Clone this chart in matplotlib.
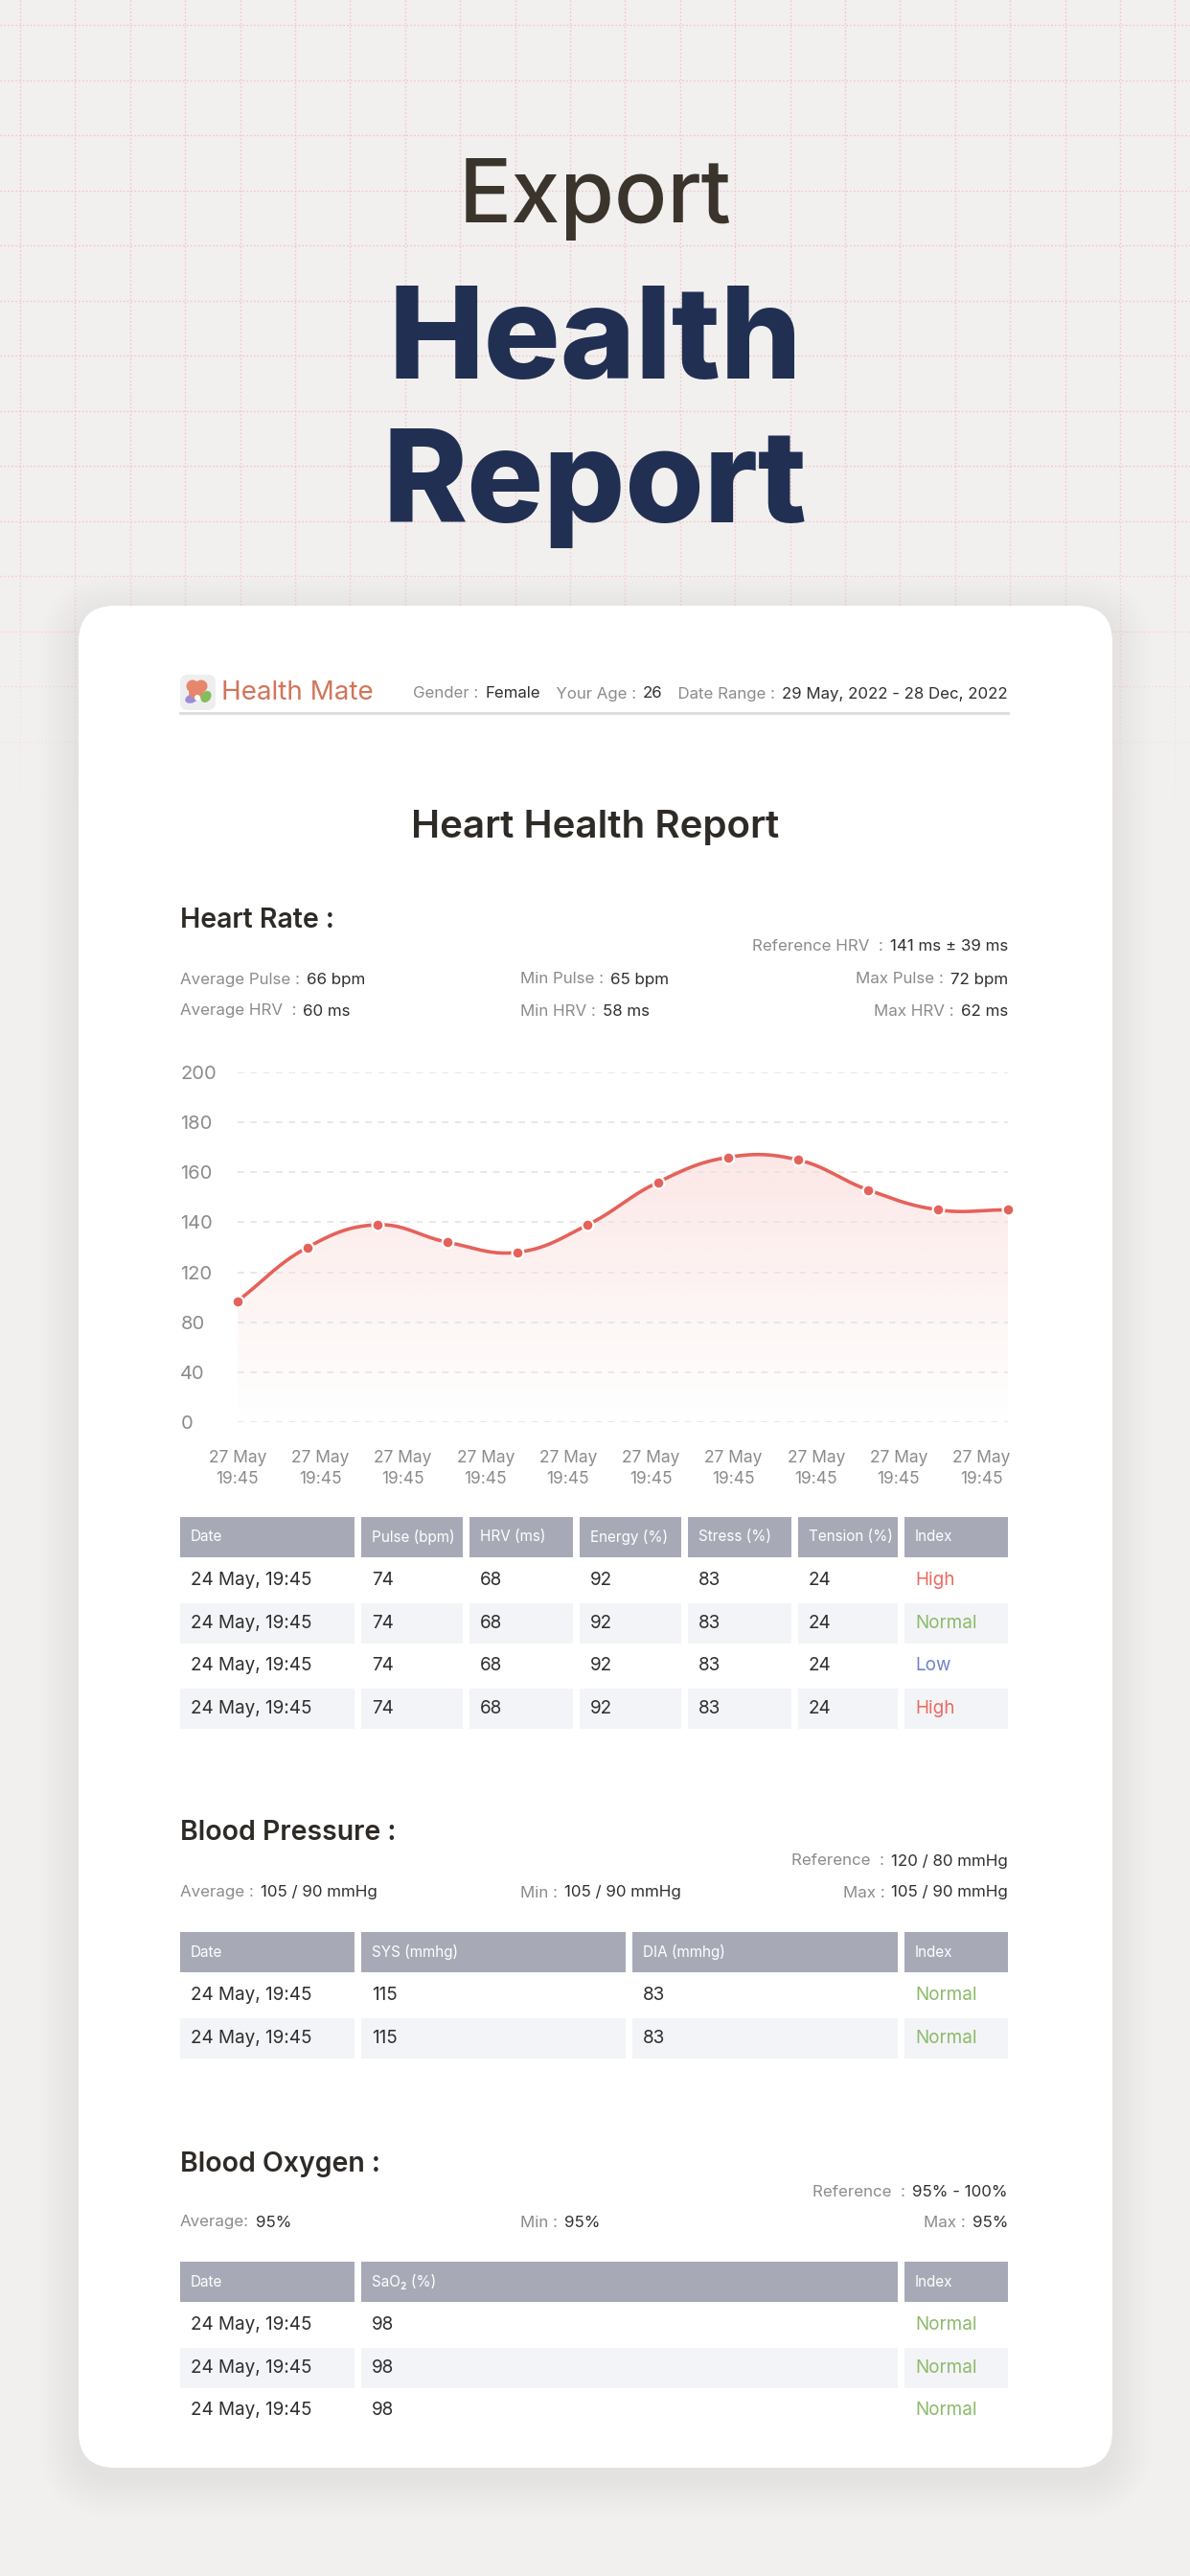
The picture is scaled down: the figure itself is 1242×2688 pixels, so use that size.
import numpy as np
import matplotlib
matplotlib.use("Agg")
import matplotlib.pyplot as plt
from matplotlib.patches import FancyBboxPatch, Rectangle, Ellipse, Circle
from matplotlib.path import Path

# ---- data ----
hr_values = [97, 130, 139, 132, 128, 139, 156, 166, 165, 153, 145, 145]
hr_ticks = [0, 40, 80, 120, 140, 160, 180, 200]
hr_xlabels = ["27 May\n19:45"] * 10

heart_cols = ["Date", "Pulse (bpm)", "HRV (ms)", "Energy (%)", "Stress (%)", "Tension (%)", "Index"]
heart_rows = [
    ["24 May, 19:45", "74", "68", "92", "83", "24", "High"],
    ["24 May, 19:45", "74", "68", "92", "83", "24", "Normal"],
    ["24 May, 19:45", "74", "68", "92", "83", "24", "Low"],
    ["24 May, 19:45", "74", "68", "92", "83", "24", "High"],
]
bp_cols = ["Date", "SYS (mmhg)", "DIA (mmhg)", "Index"]
bp_rows = [
    ["24 May, 19:45", "115", "83", "Normal"],
    ["24 May, 19:45", "115", "83", "Normal"],
]
ox_cols = ["Date", "SaO\u2082 (%)", "Index"]
ox_rows = [
    ["24 May, 19:45", "98", "Normal"],
    ["24 May, 19:45", "98", "Normal"],
    ["24 May, 19:45", "98", "Normal"],
]

hr_stats = [("Average Pulse :", "66 bpm"), ("Min Pulse :", "65 bpm"), ("Max Pulse :", "72 bpm"),
            ("Average HRV  :", "60 ms"), ("Min HRV :", "58 ms"), ("Max HRV :", "62 ms")]
hr_reference = ("Reference HRV  :", "141 ms \u00b1 39 ms")
bp_stats = [("Average :", "105 / 90 mmHg"), ("Min :", "105 / 90 mmHg"), ("Max :", "105 / 90 mmHg")]
bp_reference = ("Reference  :", "120 / 80 mmHg")
ox_stats = [("Average:", "95%"), ("Min :", "95%"), ("Max :", "95%")]
ox_reference = ("Reference  :", "95% - 100%")

index_colors = {"High": "#EA6A5E", "Normal": "#8DBA69", "Low": "#7183C9"}

FONT = ["Inter", "DejaVu Sans"]
GRAY = "#8B8B8B"
DARK = "#2F2F2F"
W, H = 1242, 2688
L, R = 188, 1052

fig = plt.figure(figsize=(W / 100, H / 100), dpi=100)
fig.patch.set_facecolor("#F2F0EF")
bg = fig.add_axes([0, 0, 1, 1])
bg.set_xlim(0, W)
bg.set_ylim(H, 0)
bg.axis("off")

# dotted grid at the top, faded out towards the card
for gx in np.arange(21, W, 57.4):
    bg.plot([gx, gx], [0, 880], color="#F4C5C9", lw=1.0, ls=(0, (1.2, 1.6)), zorder=1)
for gy in np.arange(26, 880, 57.5):
    bg.plot([0, W], [gy, gy], color="#F4C5C9", lw=1.0, ls=(0, (1.2, 1.6)), zorder=1)
fade = np.ones((100, 2, 4))
fade[..., :3] = np.array([242, 240, 239]) / 255
fade[..., 3] = np.linspace(0, 1, 100)[:, None] ** 1.2
bg.imshow(fade, extent=(0, W, 860, 480), origin="upper", aspect="auto", zorder=2)
bg.add_patch(Rectangle((0, 859), W, 40, fc="#F2F0EF", ec="none", zorder=2))
bg.set_xlim(0, W)
bg.set_ylim(H, 0)

# titles
bg.text(W / 2, 232, "Export", ha="center", va="baseline", fontsize=66, color="#3A342D",
        family=FONT, fontweight="medium", zorder=3)
bg.text(W / 2, 395, "Health", ha="center", va="baseline", fontsize=96, color="#213052",
        family=FONT, fontweight="heavy", zorder=3)
bg.text(W / 2, 545, "Report", ha="center", va="baseline", fontsize=96, color="#213052",
        family=FONT, fontweight="heavy", zorder=3)

# card with soft shadow
cx, cy, cw, ch = 82, 632, 1079, 1943
for i in range(14):
    g = 2 + i * 3
    bg.add_patch(FancyBboxPatch((cx - g, cy - g + 10), cw + 2 * g, ch + 2 * g,
                                boxstyle="round,pad=0,rounding_size=%d" % (38 + g),
                                fc="#7A7472", ec="none", alpha=0.008, zorder=3))
bg.add_patch(FancyBboxPatch((cx, cy), cw, ch, boxstyle="round,pad=0,rounding_size=38",
                            fc="white", ec="none", zorder=4))

renderer = fig.canvas.get_renderer()


def rich(x, y, parts, ha="left", size=12.2, gap=7):
    texts = []
    for s, c in parts:
        texts.append(bg.text(0, y, s, color=c, fontsize=size, va="center", ha="left",
                             family=FONT, zorder=6))
    widths = [t.get_window_extent(renderer).width for t in texts]
    total = sum(widths) + gap * (len(texts) - 1)
    x0 = x - total if ha == "right" else x
    for t, w in zip(texts, widths):
        t.set_x(x0)
        x0 += w + gap


# header bar of the card
bg.add_patch(FancyBboxPatch((188, 704), 37, 37, boxstyle="round,pad=0,rounding_size=8",
                            fc="#EFEEEF", ec="none", zorder=5))
bg.add_patch(Ellipse((200, 729), 14, 9, angle=-20, fc="#9D8CDB", ec="none", zorder=6))
bg.add_patch(Circle((201, 716), 6.5, fc="#E6876D", ec="none", zorder=6))
bg.add_patch(Circle((210, 716), 6.5, fc="#E6876D", ec="none", zorder=6))
bg.add_patch(Ellipse((205, 723), 16, 12, fc="#E6876D", ec="none", zorder=6))
bg.add_patch(Ellipse((215, 727), 10, 13, angle=35, fc="#85BD5D", ec="none", zorder=6))
bg.add_patch(Circle((206, 728), 3, fc="white", ec="none", zorder=7))
bg.text(231, 723, "Health Mate", fontsize=20, color="#D2745A", va="center", family=FONT, zorder=6)
rich(R, 724, [("Gender :", GRAY), ("Female", DARK), ("  Your Age :", GRAY), ("26", DARK),
              ("  Date Range :", GRAY), ("29 May, 2022 - 28 Dec, 2022", DARK)], ha="right", size=12.1)
bg.plot([L, R], [744, 744], color="#DCDCDC", lw=2, zorder=6)

bg.text(W / 2, 863, "Heart Health Report", ha="center", va="center", fontsize=29,
        fontweight="semibold", color="#2E2A26", family=FONT, zorder=6)


def section(title, ty, ref, ry, stats, sy):
    bg.text(L, ty, title, fontsize=20.5, fontweight="semibold", color="#2E2A26",
            va="center", family=FONT, zorder=6)
    rich(R, ry, [(ref[0], GRAY), (ref[1], DARK)], ha="right")
    xs = [L, 543, R]
    for k, (lab, val) in enumerate(stats):
        row, col = divmod(k, 3)
        rich(xs[col], sy + row * 33, [(lab, GRAY), (val, DARK)], ha="right" if col == 2 else "left")


def table(cols, rows, spans, top):
    hh, rh = 42, 44.5
    for (x0, x1), name in zip(spans, cols):
        bg.add_patch(Rectangle((x0, top), x1 - x0, hh, fc="#A7AAB6", ec="none", zorder=5))
        bg.text(x0 + 11, top + hh / 2, name, fontsize=11, color="white", va="center",
                family=FONT, zorder=6)
    for r, row in enumerate(rows):
        yc = top + hh + 2 + rh * r + rh / 2
        for c, ((x0, x1), val) in enumerate(zip(spans, row)):
            if r % 2 == 1:
                bg.add_patch(Rectangle((x0, yc - rh / 2 + 1), x1 - x0, rh - 2, fc="#F3F4F7",
                                       ec="none", zorder=5))
            color = index_colors.get(val, DARK) if c == len(row) - 1 else DARK
            bg.text(x0 + 11, yc, val, fontsize=13.6, color=color, va="center",
                    family=FONT, zorder=6)


# heart rate section
section("Heart Rate :", 961, hr_reference, 988, hr_stats, 1022)

ax = fig.add_axes([248 / W, 1 - 1484 / H, (R - 248) / W, (1484 - 1119) / H])
pos = np.arange(len(hr_ticks))
fwd = lambda v: np.interp(v, hr_ticks, pos)
inv = lambda p: np.interp(p, pos, hr_ticks)
ax.set_yscale("function", functions=(fwd, inv))
ax.set_zorder(5)
ax.patch.set_alpha(0)

# smooth curve (chart.js style spline) in screen-like units
xi = np.arange(len(hr_values), dtype=float)
px = xi * 73.1
py = fwd(np.array(hr_values, dtype=float)) * 52.1
pts = np.column_stack([px, py])
tension = 0.4
cps = []
for i in range(len(pts)):
    prev = pts[max(i - 1, 0)]
    nxt = pts[min(i + 1, len(pts) - 1)]
    d01 = np.hypot(*(pts[i] - prev))
    d12 = np.hypot(*(nxt - pts[i]))
    tot = d01 + d12 if d01 + d12 > 0 else 1
    fa, fb = tension * d01 / tot, tension * d12 / tot
    cps.append((pts[i] - fa * (nxt - prev), pts[i] + fb * (nxt - prev)))
curve = []
tt = np.linspace(0, 1, 40)[:, None]
for i in range(len(pts) - 1):
    p0, p1, p2, p3 = pts[i], cps[i][1], cps[i + 1][0], pts[i + 1]
    seg = (1 - tt) ** 3 * p0 + 3 * (1 - tt) ** 2 * tt * p1 + 3 * (1 - tt) * tt ** 2 * p2 + tt ** 3 * p3
    curve.append(seg if i == 0 else seg[1:])
curve = np.vstack(curve)
cx_d = curve[:, 0] / 73.1
cy_d = inv(curve[:, 1] / 52.1)

grad = np.zeros((200, 2, 4))
grad[..., :3] = np.array([234, 100, 92]) / 255
grad[..., 3] = np.linspace(0.2, 0.0, 200)[:, None]
im = ax.imshow(grad, extent=(0, 1, 0, 1), transform=ax.transAxes, origin="upper",
               aspect="auto", zorder=1)
verts = np.vstack([np.column_stack([cx_d, cy_d]),
                   [[cx_d[-1], 0], [cx_d[0], 0], [cx_d[0], cy_d[0]]]])
im.set_clip_path(Path(verts), ax.transData)

ax.plot(cx_d, cy_d, color="#E4625B", lw=2.6, zorder=3, clip_on=False)
ax.plot(xi, hr_values, "o", ms=8.5, mfc="#E4625B", mec="white", mew=1.6, zorder=4, clip_on=False)

ax.set_xlim(0, len(hr_values) - 1)
ax.set_ylim(0, 200)
ax.set_yticks(hr_ticks)
ax.set_yticklabels([str(v) for v in hr_ticks], ha="left", family=FONT)
ax.set_xticks(np.linspace(0, 10.62, len(hr_xlabels)))
ax.set_xticklabels(hr_xlabels, family=FONT, linespacing=1.35)
ax.tick_params(axis="y", length=0, pad=43, labelsize=14.5, labelcolor=GRAY)
ax.tick_params(axis="x", length=0, pad=21, labelsize=12.5, labelcolor=GRAY)
ax.grid(axis="y", color="#E4E4E4", lw=1.2, ls=(0, (4, 4)), zorder=0)
for s in ax.spines.values():
    s.set_visible(False)

table(heart_cols, heart_rows,
      [(188, 370), (377, 483), (490, 598), (605, 711), (718, 826), (833, 937), (944, 1052)], 1583)

# blood pressure
section("Blood Pressure :", 1913, bp_reference, 1942, bp_stats, 1975)
table(bp_cols, bp_rows, [(188, 370), (377, 653), (660, 937), (944, 1052)], 2016)

# blood oxygen
section("Blood Oxygen :", 2258, ox_reference, 2287, ox_stats, 2319)
table(ox_cols, ox_rows, [(188, 370), (377, 937), (944, 1052)], 2360)

fig.savefig("out.png", dpi=100, facecolor=fig.get_facecolor())
